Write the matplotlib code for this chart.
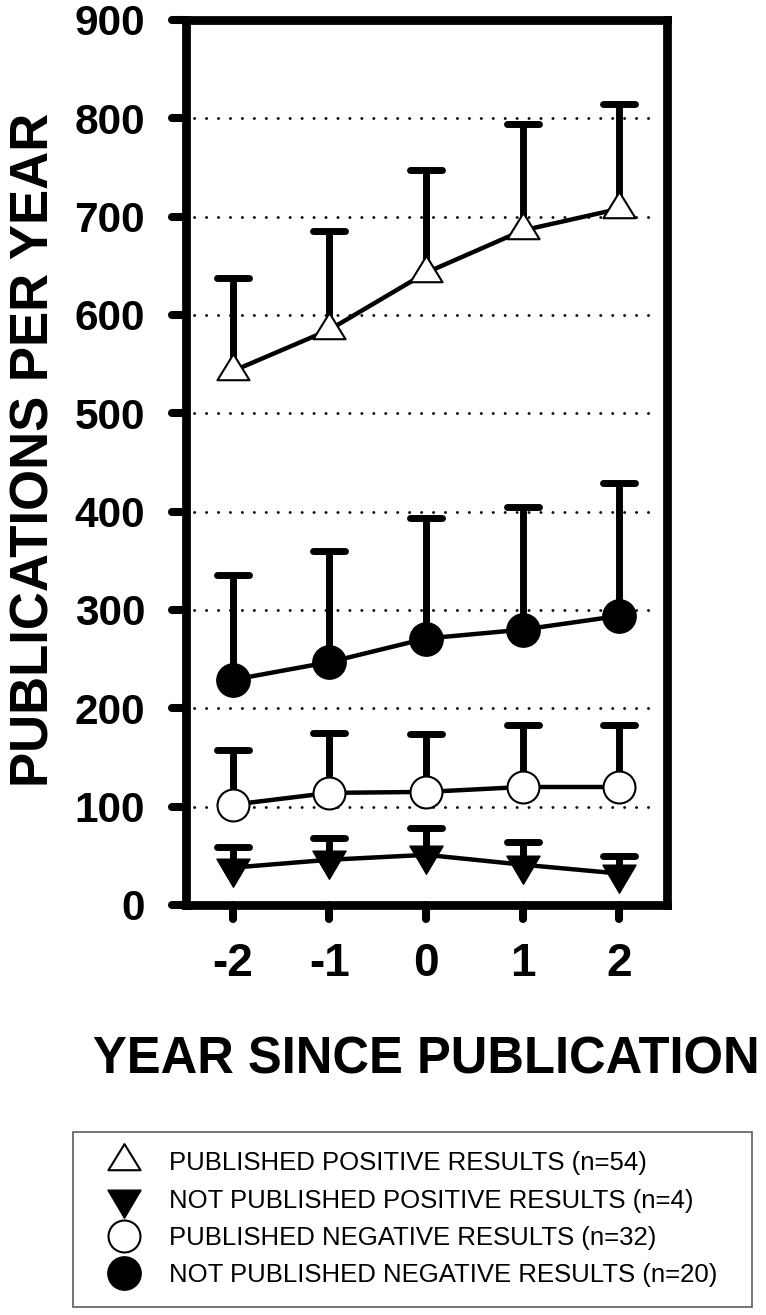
import numpy as np
import matplotlib
matplotlib.use('Agg')
import matplotlib.pyplot as plt
from matplotlib.markers import MarkerStyle
from matplotlib.path import Path

# year since publication
years = [-2, -1, 0, 1, 2]

# mean publications per year and top of the error bar
pub_pos = [543, 585, 643, 686, 708]
pub_pos_err = [638, 685, 747, 794, 815]

notpub_pos = [38, 46, 51, 41, 32]
notpub_pos_err = [59, 68, 78, 64, 50]

pub_neg = [102, 114, 115, 120, 120]
pub_neg_err = [158, 175, 174, 183, 183]

notpub_neg = [229, 247, 271, 280, 294]
notpub_neg_err = [336, 360, 394, 405, 429]

labels = ['PUBLISHED POSITIVE RESULTS (n=54)',
          'NOT PUBLISHED POSITIVE RESULTS (n=4)',
          'PUBLISHED NEGATIVE RESULTS (n=32)',
          'NOT PUBLISHED NEGATIVE RESULTS (n=20)']

yticks = [0, 100, 200, 300, 400, 500, 600, 700, 800, 900]
grid_y = [100, 200, 300, 400, 500, 600, 700, 800]

plt.rcParams['font.family'] = ['Liberation Sans', 'DejaVu Sans']

# triangles centred on their centroid, like the original software
tri_up = MarkerStyle(Path([(0, 17.3), (-16, -8.7), (16, -8.7), (0, 17.3)], closed=True), joinstyle='miter')
tri_down = MarkerStyle(Path([(0, -18.7), (-16.5, 9.3), (16.5, 9.3), (0, -18.7)], closed=True), joinstyle='miter')
cap = MarkerStyle('_', capstyle='round')

fig = plt.figure(figsize=(7.66, 13.15), dpi=100)
ax = fig.add_axes([0.2422, 0.3118, 0.628, 0.673])

ax.hlines(grid_y, -2.4, 2.4, colors='k', linestyles=(0, (0.1, 4.2)), lw=2.0, zorder=0)
for coll in ax.collections:
    coll.set_capstyle('round')

series = [
    (pub_pos, pub_pos_err, tri_up, 25, 'white', 1.5),
    (notpub_pos, notpub_pos_err, tri_down, 27, 'black', 1.0),
    (pub_neg, pub_neg_err, 'o', 23, 'white', 1.5),
    (notpub_neg, notpub_neg_err, 'o', 24, 'black', 1.0),
]

handles = []
for mean, top, mk, ms, fc, mew in series:
    ax.plot(years, mean, color='k', lw=3.2, zorder=2, solid_capstyle='round')
    ax.vlines(years, mean, top, colors='k', lw=5.0, zorder=3)
    ax.plot(years, top, ls='none', marker=cap, ms=23, mew=5.0, color='k', zorder=3)
    h, = ax.plot(years, mean, ls='none', marker=mk, ms=ms, mfc=fc, mec='k', mew=mew, zorder=4)
    handles.append(h)

ax.set_xlim(-2.49, 2.49)
ax.set_ylim(0, 900)
ax.set_xticks(years)
ax.set_xticklabels([str(y) for y in years])
ax.set_yticks(yticks)

for s in ax.spines.values():
    s.set_linewidth(6.3)
    s.set_capstyle('projecting')

ax.tick_params(axis='both', length=10, width=5.8, direction='out')
ax.tick_params(axis='y', pad=19, labelsize=30.5)
ax.tick_params(axis='x', pad=17, labelsize=33)
for lab in ax.get_xticklabels() + ax.get_yticklabels():
    lab.set_fontweight('bold')
for t in ax.xaxis.get_major_ticks() + ax.yaxis.get_major_ticks():
    t.tick1line.set_marker(MarkerStyle(t.tick1line.get_marker(), capstyle='round'))

ax.set_ylabel('PUBLICATIONS PER YEAR', fontsize=38, fontweight='bold')
ax.yaxis.set_label_coords(-0.263, 0.514)
ax.set_xlabel('YEAR SINCE PUBLICATION', fontsize=36.5, fontweight='bold')
ax.xaxis.set_label_coords(0.5, -0.147)

leg = fig.legend(handles, labels, loc='upper left',
                 bbox_to_anchor=(73 / 766, 4 / 1315, 679 / 766, 179 / 1315),
                 mode='expand', borderaxespad=0, fontsize=18.5, numpoints=1,
                 frameon=True, fancybox=False, edgecolor='#333333',
                 handlelength=2.5, handletextpad=0.5, borderpad=0.75,
                 labelspacing=0.52)
leg.get_frame().set_linewidth(1.2)

fig.savefig('out.png', dpi=100)
